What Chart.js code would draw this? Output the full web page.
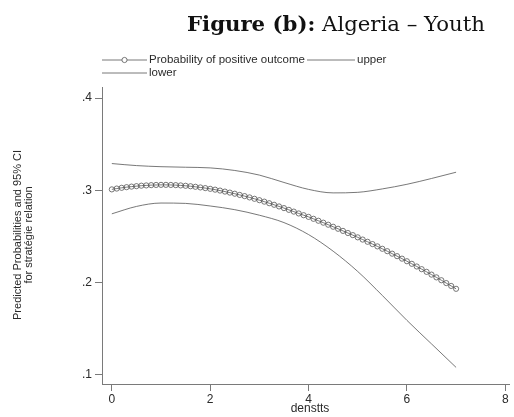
<!DOCTYPE html>
<html>
<head>
<meta charset="utf-8">
<script src="https://cdn.jsdelivr.net/npm/chart.js@4.4.0/dist/chart.umd.min.js"></script>
<style>
html, body { margin: 0; padding: 0; background: #fff; }
#wrap { position: relative; width: 514px; height: 417px; }
</style>
</head>
<body>
<div id="wrap"><canvas id="graphic" width="514" height="417"></canvas></div>
<script>
// values
const densX = [0.0, 0.1, 0.2, 0.3, 0.4, 0.5, 0.6, 0.7, 0.8, 0.9,
  1.0, 1.1, 1.2, 1.3, 1.4, 1.5, 1.6, 1.7, 1.8, 1.9,
  2.0, 2.1, 2.2, 2.3, 2.4, 2.5, 2.6, 2.7, 2.8, 2.9,
  3.0, 3.1, 3.2, 3.3, 3.4, 3.5, 3.6, 3.7, 3.8, 3.9,
  4.0, 4.1, 4.2, 4.3, 4.4, 4.5, 4.6, 4.7, 4.8, 4.9,
  5.0, 5.1, 5.2, 5.3, 5.4, 5.5, 5.6, 5.7, 5.8, 5.9,
  6.0, 6.1, 6.2, 6.3, 6.4, 6.5, 6.6, 6.7, 6.8, 6.9, 7.0];
const probability = [0.3010, 0.3019, 0.3027, 0.3034, 0.3040, 0.3045, 0.3050, 0.3053, 0.3056, 0.3058,
  0.3059, 0.3059, 0.3058, 0.3056, 0.3053, 0.3049, 0.3044, 0.3038, 0.3031, 0.3024,
  0.3016, 0.3007, 0.2997, 0.2986, 0.2975, 0.2963, 0.2950, 0.2937, 0.2923, 0.2908,
  0.2893, 0.2877, 0.2860, 0.2843, 0.2825, 0.2807, 0.2788, 0.2769, 0.2749, 0.2730,
  0.2712, 0.2691, 0.2670, 0.2649, 0.2627, 0.2605, 0.2583, 0.2560, 0.2537, 0.2514,
  0.2490, 0.2466, 0.2442, 0.2417, 0.2392, 0.2366, 0.2340, 0.2313, 0.2286, 0.2259,
  0.2231, 0.2203, 0.2174, 0.2145, 0.2116, 0.2086, 0.2056, 0.2025, 0.1994, 0.1963, 0.1932];

const ciX = [0, 0.5, 1, 1.5, 2, 2.5, 3, 3.5, 4, 4.5, 5, 5.5, 6, 6.5, 7];
const upper = [0.3290, 0.3268, 0.3256, 0.3250, 0.3243, 0.3215, 0.3165, 0.3085, 0.3010, 0.2972, 0.2978, 0.3015, 0.3065, 0.3128, 0.3196];
const lower = [0.2745, 0.2825, 0.2862, 0.2858, 0.2830, 0.2790, 0.2730, 0.2650, 0.2520, 0.2340, 0.2120, 0.1860, 0.1590, 0.1335, 0.1080];

const xTicks = [0, 2, 4, 6, 8];
const xTickLabels = ['0', '2', '4', '6', '8'];
const yTicks = [0.1, 0.2, 0.3, 0.4];
const yTickLabels = ['.1', '.2', '.3', '.4'];

const lineGrey = '#555555';
const axisGrey = '#7a7a7a';
const textGrey = '#2a2a2a';
const sans = '"Liberation Sans", Arial, sans-serif';

function pairs(xs, ys) {
  return xs.map((x, i) => ({ x: x, y: ys[i] }));
}

// title, legend and axis titles drawn like the Stata graph
const stataText = {
  id: 'stataText',
  afterDraw(chart) {
    const ctx = chart.ctx;
    ctx.save();
    ctx.fillStyle = '#111';
    ctx.textBaseline = 'alphabetic';

    // title: bold part + normal part, fitted to the reference width
    const boldTxt = 'Figure (b):';
    const normTxt = ' Algeria \u2013 Youth';
    let fs = 20;
    ctx.font = 'bold ' + fs + 'px "DejaVu Serif", serif';
    let wb = ctx.measureText(boldTxt).width;
    ctx.font = fs + 'px "DejaVu Serif", serif';
    let wn = ctx.measureText(normTxt).width;
    fs = fs * 298 / (wb + wn);
    ctx.font = 'bold ' + fs + 'px "DejaVu Serif", serif';
    wb = ctx.measureText(boldTxt).width;
    ctx.fillText(boldTxt, 187, 31);
    ctx.font = fs + 'px "DejaVu Serif", serif';
    ctx.fillText(normTxt, 187 + wb, 31);

    // legend
    ctx.font = '11.5px ' + sans;
    ctx.textBaseline = 'middle';
    ctx.strokeStyle = lineGrey;
    ctx.lineWidth = 0.8;
    const seg = (x1, x2, y) => {
      ctx.beginPath(); ctx.moveTo(x1, y); ctx.lineTo(x2, y); ctx.stroke();
    };
    seg(102, 147, 60);
    ctx.beginPath(); ctx.arc(124.5, 60, 2.6, 0, Math.PI * 2);
    ctx.fillStyle = '#fff'; ctx.fill(); ctx.stroke();
    ctx.fillStyle = textGrey;
    const lab1 = 'Probability of positive outcome';
    ctx.fillText(lab1, 149, 60);
    const e1 = Math.max(307, 149 + ctx.measureText(lab1).width + 1);
    seg(e1, e1 + 48, 60);
    ctx.fillText('upper', e1 + 50, 60);
    seg(102, 147, 73);
    ctx.fillText('lower', 149, 73);

    // x axis title
    ctx.textAlign = 'center';
    ctx.font = '12px ' + sans;
    ctx.fillText('denstts', 310, 409);

    // y axis title, two lines
    ctx.translate(0, 235);
    ctx.rotate(-Math.PI / 2);
    ctx.font = '11px ' + sans;
    ctx.fillText('Predicted Probabilities and 95% CI', 0, 18);
    ctx.fillText('for strat\u00e9gie relation', 0, 29);
    ctx.restore();
  }
};

let myChart = new Chart(document.getElementById('graphic'), {
  type: 'line',
  data: {
    datasets: [
      {
        label: 'Probability of positive outcome',
        data: pairs(densX, probability),
        borderColor: lineGrey,
        borderWidth: 0.8,
        pointStyle: 'circle',
        pointRadius: 2.6,
        pointBorderColor: lineGrey,
        pointBorderWidth: 0.8,
        pointBackgroundColor: 'rgba(255,255,255,0)',
        tension: 0
      },
      {
        label: 'upper',
        data: pairs(ciX, upper),
        borderColor: lineGrey,
        borderWidth: 0.8,
        pointRadius: 0,
        cubicInterpolationMode: 'monotone'
      },
      {
        label: 'lower',
        data: pairs(ciX, lower),
        borderColor: lineGrey,
        borderWidth: 0.8,
        pointRadius: 0,
        cubicInterpolationMode: 'monotone'
      }
    ]
  },
  options: {
    responsive: false,
    animation: false,
    devicePixelRatio: 1,
    layout: { padding: { top: 87, right: 2, bottom: 0, left: 0 } },
    plugins: {
      legend: { display: false },
      tooltip: { enabled: false },
      title: { display: false }
    },
    scales: {
      x: {
        type: 'linear',
        min: -0.2,
        max: 8.08,
        afterBuildTicks: (scale) => { scale.ticks = xTicks.map(v => ({ value: v })); },
        afterFit: (scale) => { scale.height = 33; },
        ticks: {
          autoSkip: false,
          maxRotation: 0,
          padding: 1,
          color: textGrey,
          font: { family: sans, size: 12 },
          callback: (v, i) => xTickLabels[i]
        },
        grid: { drawOnChartArea: false, drawTicks: true, tickLength: 7, tickColor: axisGrey, color: axisGrey },
        border: { display: true, color: axisGrey, width: 1 }
      },
      y: {
        type: 'linear',
        min: 0.09,
        max: 0.412,
        afterBuildTicks: (scale) => { scale.ticks = yTicks.map(v => ({ value: v })); },
        afterFit: (scale) => { scale.width = 102; },
        ticks: {
          autoSkip: false,
          padding: 3,
          color: textGrey,
          font: { family: sans, size: 12 },
          callback: (v, i) => yTickLabels[i]
        },
        grid: { drawOnChartArea: false, drawTicks: true, tickLength: 7, tickColor: axisGrey, color: axisGrey },
        border: { display: true, color: axisGrey, width: 1 }
      }
    }
  },
  plugins: [stataText]
});
</script>
</body>
</html>
